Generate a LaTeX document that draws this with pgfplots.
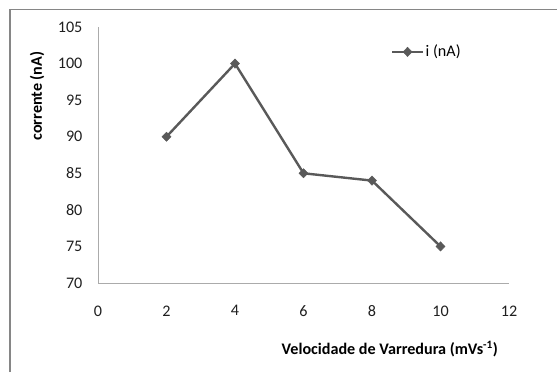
\documentclass[border=0pt]{standalone}
\usepackage{fontspec}
\setmainfont{Carlito}
\usepackage{pgfplots}
\pgfplotsset{compat=1.18}
\definecolor{serie}{HTML}{595959}
\definecolor{eixo}{HTML}{ABABAB}
\definecolor{moldura}{HTML}{868686}
\definecolor{texto}{HTML}{1F1F1F}
\newcommand{\fonte}{\fontsize{16.2}{19}\selectfont}
\begin{document}
\fonte
\begin{tikzpicture}[x=1bp,y=1bp]
\path[use as bounding box] (0,0) rectangle (557,372);
% chart frame (top and left edges)
\draw[moldura, line width=1.3bp] (10,0) -- (10,362.5) -- (557,362.5);
\begin{axis}[
  at={(98bp,89bp)}, anchor=south west,
  scale only axis, width=411bp, height=256bp,
  xmin=0, xmax=12, ymin=70, ymax=105,
  xtick={0,2,...,12}, ytick={70,75,...,105},
  axis x line*=bottom, axis y line*=left,
  axis line style={eixo, line width=1bp, -},
  major tick length=0pt,
  /pgf/number format/assume math mode=true,
  tick label style={font=\fonte, text=texto},
  xticklabel style={yshift=-17bp},
  yticklabel style={xshift=-10bp},
  xlabel={\textbf{Velocidade de Varredura (mVs\textsuperscript{-1})}},
  ylabel={\textbf{corrente (nA)}},
  label style={font=\fonte, text=black},
  xlabel style={at={(axis description cs:0.71,-0.258)}, anchor=center},
  ylabel style={at={(axis description cs:-0.148,0.73)}, anchor=center},
  legend style={at={(axis cs:8.55,101.6)}, anchor=west, draw=none, fill=none,
    inner sep=0pt, outer sep=0pt, font=\fonte,
    nodes={inner sep=1.5bp}},
  legend image code/.code={%
    \draw[mark repeat=2,mark phase=2] plot coordinates {(0bp,0bp)(15.5bp,0bp)(31bp,0bp)};},
  clip=false,
]
\addplot[serie, line width=2.4bp, mark=diamond*, mark size=4.6bp,
  mark options={fill=serie, line width=0.5bp, xscale=1.3}]
  coordinates {(2,90) (4,100) (6,85) (8,84) (10,75)};
\addlegendentry{i (nA)}
\end{axis}
\end{tikzpicture}
\end{document}
